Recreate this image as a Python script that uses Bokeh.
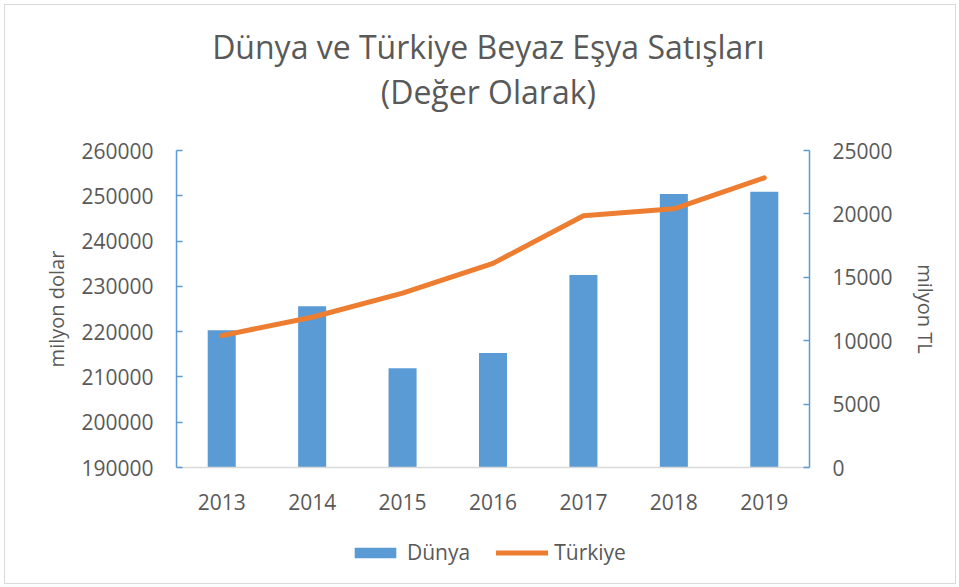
from bokeh.plotting import figure
from bokeh.models import (Range1d, LinearAxis, FixedTicker, NumeralTickFormatter,
                          Legend, LegendItem, ColumnDataSource, FactorRange)
from bokeh.layouts import column
from bokeh.core.properties import value
from bokeh.embed import file_html
from bokeh.resources import INLINE

years = ["2013", "2014", "2015", "2016", "2017", "2018", "2019"]
dunya = [220300, 225600, 211900, 215300, 232500, 250400, 250900]
turkiye = [10400, 11850, 13750, 16100, 19850, 20400, 22850]
left_ticks = [190000, 200000, 210000, 220000, 230000, 240000, 250000, 260000]
right_ticks = [0, 5000, 10000, 15000, 20000, 25000]
title_lines = ["Dünya ve Türkiye Beyaz Eşya Satışları", "(Değer Olarak)"]
legend_labels = ["Dünya", "Türkiye"]

FONT = "Open Sans"
TXT = "#595959"
BLUE = "#5B9BD5"
ORANGE = "#ED7D31"
W = 950


def strip(h):
    f = figure(width=W, height=h, x_range=Range1d(0, W), y_range=Range1d(0, h),
               output_backend="svg", toolbar_location=None,
               x_axis_location=None, y_axis_location=None,
               min_border_left=0, min_border_right=0, min_border_top=0,
               min_border_bottom=0)
    f.grid.visible = False
    f.outline_line_color = None
    return f


# ---- title strip ----
tf = strip(125)
tsrc = ColumnDataSource(dict(x=[468, 468], y=[84, 39], t=title_lines))
tf.text(x="x", y="y", text="t", source=tsrc, text_font=value(FONT),
        text_font_size="32px", text_color=TXT, text_align="center",
        text_baseline="middle")

# ---- main chart ----
src = ColumnDataSource(dict(x=years, d=dunya, t=turkiye))

p = figure(x_range=FactorRange(*years), y_range=Range1d(190000, 260000),
           width=W, height=395, output_backend="svg", toolbar_location=None,
           min_border_left=171, min_border_right=146, min_border_top=20,
           min_border_bottom=58)
p.extra_y_ranges = {"tl": Range1d(0, 25000)}
p.outline_line_color = None
p.xgrid.visible = False
p.ygrid.visible = False
p.x_range.range_padding = 0
p.x_range.group_padding = 0

bars = p.vbar(x="x", top="d", bottom=190000, width=0.31, source=src,
              fill_color=BLUE, line_color=None)
line = p.line(x="x", y="t", source=src, y_range_name="tl", line_color=ORANGE,
              line_width=5, line_cap="round", line_join="round")

la = p.yaxis[0]
la.ticker = FixedTicker(ticks=left_ticks)
la.formatter = NumeralTickFormatter(format="0")
la.axis_label = "milyon dolar"

ra = LinearAxis(y_range_name="tl", ticker=FixedTicker(ticks=right_ticks),
                formatter=NumeralTickFormatter(format="0"), axis_label="milyon TL")
p.add_layout(ra, "right")

for ax in (la, ra):
    ax.axis_line_color = BLUE
    ax.axis_line_width = 1.5
    ax.major_tick_line_color = BLUE
    ax.major_tick_line_width = 1.5
    ax.major_tick_in = 6
    ax.major_tick_out = 0
    ax.minor_tick_line_color = None
    ax.major_label_standoff = 23
la.axis_label_standoff = 8
ra.axis_label_standoff = 16

xa = p.xaxis[0]
xa.axis_line_color = "#D9D9D9"
xa.axis_line_width = 1.5
xa.major_tick_line_color = None
xa.minor_tick_line_color = None
xa.major_label_standoff = 20

for ax in (la, ra, xa):
    ax.major_label_text_font = FONT
    ax.major_label_text_font_size = "21px"
    ax.major_label_text_color = TXT
    ax.axis_label_text_font = FONT
    ax.axis_label_text_font_size = "20px"
    ax.axis_label_text_color = TXT
    ax.axis_label_text_font_style = "normal"

# ---- legend strip (sample glyphs kept outside the strip's visible range) ----
q = strip(58)
lb = q.vbar(x=[-100], top=[-100], bottom=[-200], width=1, fill_color=BLUE, line_color=None)
ll = q.line(x=[-200, -100], y=[-100, -100], line_color=ORANGE, line_width=5,
            line_cap="round")

legend = Legend(items=[LegendItem(label=legend_labels[0], renderers=[lb]),
                       LegendItem(label=legend_labels[1], renderers=[ll])],
                orientation="horizontal", location=(173, 17),
                glyph_width=52, glyph_height=13, label_standoff=6, spacing=26,
                padding=0, margin=0, border_line_color=None,
                background_fill_alpha=0,
                label_text_font=FONT, label_text_font_size="21px",
                label_text_color=TXT, label_height=20)
q.add_layout(legend, "center")

col = column(tf, p, q, spacing=0)
col.styles = {"border": "1px solid #D9D9D9", "margin": "4px"}

open("out.html", "w").write(file_html(col, INLINE))
